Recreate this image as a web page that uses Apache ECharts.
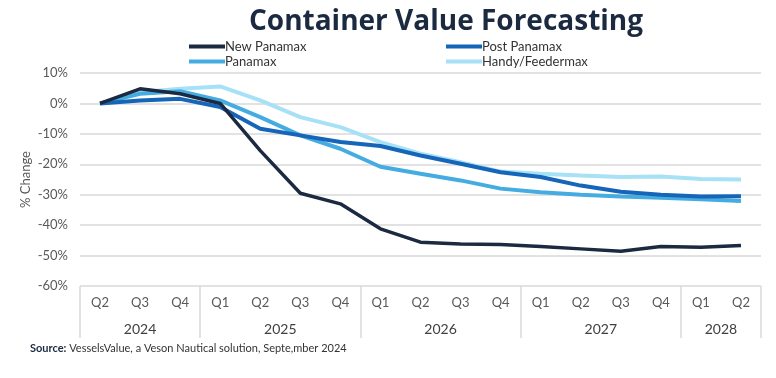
<!DOCTYPE html>
<html><head><meta charset="utf-8">
<script src="https://cdn.jsdelivr.net/npm/echarts@6/dist/echarts.min.js"></script>
<style>html,body{margin:0;padding:0;background:#fff}#c{width:776px;height:378px}</style>
</head><body><div id="c"></div>
<script>
const quarters = ['Q2','Q3','Q4','Q1','Q2','Q3','Q4','Q1','Q2','Q3','Q4','Q1','Q2','Q3','Q4','Q1','Q2'];
const years = ['2024','2025','2026','2027','2028'];
const quartersPerYear = [3,4,4,4,2];
const yTicks = [10,0,-10,-20,-30,-40,-50,-60];
const newPanamax = [0,4.8,3.2,0,-15.5,-29.5,-33,-41.2,-45.6,-46.2,-46.4,-47,-47.8,-48.6,-47,-47.3,-46.7];
const postPanamax = [0,1,1.5,-1.2,-8.3,-10.5,-12.7,-14,-17.1,-19.8,-22.6,-24.2,-27,-29,-30,-30.6,-30.5];
const panamax = [0,3.2,4,1,-4.5,-10.5,-14.9,-20.8,-23.1,-25.3,-28,-29.2,-30,-30.6,-31,-31.5,-32.1];
const handy = [0,3.7,4.8,5.6,1,-4.5,-7.8,-12.7,-16.5,-19.3,-22.4,-23.1,-23.7,-24.2,-24,-24.8,-25];

// half-quarter year axis (2*N+1 points, boundaryGap false)
const nHalf = quarters.length * 2 + 1;
const yearCats = new Array(nHalf).fill('');
const boundaries = new Set([0]);
let acc = 0;
years.forEach((y, i) => {
  const start = acc, end = acc + quartersPerYear[i];
  yearCats[start + end] = y;
  acc = end;
  boundaries.add(2 * end);
});

const font = 'Lato, "Open Sans", sans-serif';
const chart = echarts.init(document.getElementById('c'));
const mk = (name, data, color, w) => ({
  name, type: 'line', data, xAxisIndex: 0, symbol: 'none', smooth: false,
  lineStyle: {color, width: w}, itemStyle: {color}
});
const legendBase = {
  orient: 'vertical', itemGap: 2, itemWidth: 36, itemHeight: 4, icon: 'rect',
  textStyle: {fontSize: 13, color: '#333', fontFamily: font, padding: [0, 0, 0, -5]}
};
chart.setOption({
  animation: false,
  title: [
    {text: 'Container Value Forecasting', left: 441, top: 3, textAlign: 'center',
     textStyle: {fontFamily: '"Open Sans", sans-serif', fontWeight: 'bold', fontSize: 28, color: '#1B2A41'}},
    {text: '{b|Source:} VesselsValue, a Veson Nautical solution, Septe,mber 2024', left: 25, top: 338,
     textStyle: {rich: {b: {fontWeight: 'bold', fontSize: 11, color: '#1B2A41', fontFamily: font}},
                 fontWeight: 'normal', fontSize: 11, color: '#333', fontFamily: font}}
  ],
  legend: [
    Object.assign({left: 184, top: 35, data: ['New Panamax','Panamax']}, legendBase),
    Object.assign({left: 441, top: 35, data: ['Post Panamax','Handy/Feedermax']}, legendBase)
  ],
  grid: {left: 80, right: 15, top: 73, bottom: 92},
  xAxis: [
    {type: 'category', data: quarters, boundaryGap: true, position: 'bottom',
     axisLine: {show: false}, axisTick: {show: false},
     axisLabel: {margin: 10, fontSize: 13, color: '#595959', fontFamily: font}},
    {type: 'category', data: yearCats, boundaryGap: false, position: 'bottom',
     axisLine: {show: false},
     axisTick: {show: true, length: 52, lineStyle: {color: '#d9d9d9', width: 1.5},
                interval: (i) => boundaries.has(i)},
     axisLabel: {margin: 36, fontSize: 14, color: '#404040', fontFamily: font,
                 interval: (i) => yearCats[i] !== ''}}
  ],
  yAxis: {
    type: 'value', min: -60, max: 10, interval: 10,
    name: '% Change', nameLocation: 'middle', nameGap: 48, nameRotate: 90, nameMoveOverlap: false,
    nameTextStyle: {fontSize: 13, color: '#595959', fontFamily: font},
    axisLabel: {formatter: v => yTicks.includes(v) ? v + '%' : '', fontSize: 13, color: '#595959', fontFamily: font, margin: 12},
    axisLine: {show: false}, axisTick: {show: false},
    splitLine: {lineStyle: {color: '#d9d9d9', width: 1.5}}
  },
  series: [
    mk('Handy/Feedermax', handy, '#A6E1F6', 4),
    mk('Panamax', panamax, '#45ACE1', 4),
    mk('Post Panamax', postPanamax, '#1565B8', 4),
    mk('New Panamax', newPanamax, '#1B2A41', 3.5)
  ]
});
</script></body></html>
